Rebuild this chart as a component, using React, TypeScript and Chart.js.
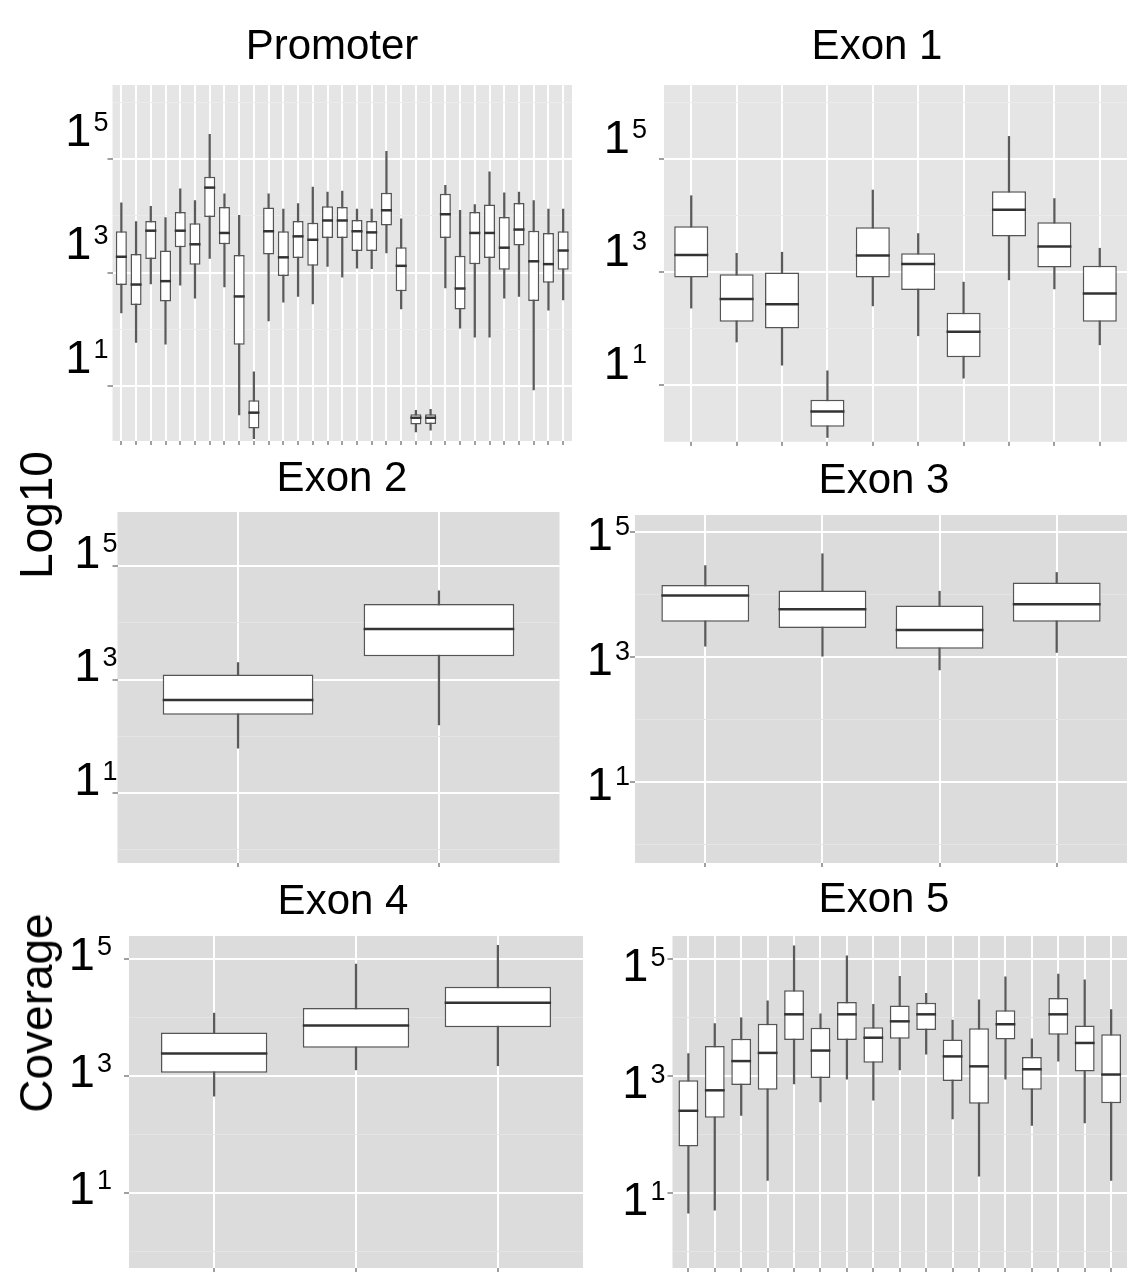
import React, { useEffect, useRef } from "react";
import { Chart, registerables } from "chart.js";

Chart.register(...registerables);

const FONT = "'Liberation Sans', Arial, Helvetica, sans-serif";

// ---- axis ticks ----
const yTickValues = [1, 3, 5];
const yTickBase = "1";
const yTickExponents = ["1", "3", "5"];
const yGridValues = [0, 1, 2, 3, 4, 5, 6];

// ---- Promoter (31 groups) ----
const promoterMin = [2.29, 1.77, 2.80, 1.74, 2.78, 2.55, 3.25, 2.75, 0.49, 0.07, 2.15, 2.48, 2.58, 2.45, 3.11, 2.92, 3.08, 3.07, 3.35, 2.36, 0.19, 0.22, 2.73, 2.02, 1.86, 1.86, 2.55, 2.58, 0.93, 2.34, 2.52];
const promoterQ1 = [2.78, 2.43, 3.24, 2.49, 3.45, 3.14, 3.98, 3.50, 1.73, 0.25, 3.32, 2.94, 3.26, 3.12, 3.61, 3.61, 3.38, 3.38, 3.83, 2.67, 0.32, 0.33, 3.61, 2.35, 3.15, 3.26, 3.05, 3.48, 2.50, 2.82, 3.05];
const promoterMedian = [3.28, 2.79, 3.74, 2.85, 3.74, 3.50, 4.50, 3.70, 2.58, 0.53, 3.73, 3.27, 3.64, 3.58, 3.92, 3.92, 3.73, 3.71, 4.10, 3.12, 0.44, 0.44, 4.03, 2.72, 3.70, 3.70, 3.44, 3.76, 3.20, 3.15, 3.39];
const promoterQ3 = [3.73, 3.33, 3.91, 3.39, 4.07, 3.87, 4.69, 4.16, 3.31, 0.75, 4.15, 3.73, 3.91, 3.88, 4.17, 4.16, 3.93, 3.91, 4.41, 3.45, 0.50, 0.50, 4.39, 3.30, 4.07, 4.20, 3.98, 4.23, 3.74, 3.70, 3.73];
const promoterMax = [4.23, 3.90, 4.17, 3.97, 4.48, 4.27, 5.44, 4.39, 4.01, 1.25, 4.39, 4.12, 4.22, 4.51, 4.42, 4.44, 4.12, 4.12, 5.14, 3.95, 0.57, 0.59, 4.54, 4.10, 4.20, 4.78, 4.41, 4.42, 4.27, 4.12, 4.12];

// ---- Exon 1 (10 groups) ----
const exon1Min = [2.36, 1.76, 1.35, 0.07, 2.40, 1.87, 1.12, 2.86, 2.70, 1.71];
const exon1Q1 = [2.90, 2.12, 2.00, 0.26, 2.90, 2.68, 1.49, 3.63, 3.08, 2.12];
const exon1Median = [3.30, 2.52, 2.43, 0.53, 3.29, 3.14, 1.94, 4.10, 3.45, 2.62];
const exon1Q3 = [3.81, 2.96, 2.99, 0.74, 3.79, 3.33, 2.28, 4.43, 3.88, 3.11];
const exon1Max = [4.35, 3.33, 3.35, 1.25, 4.45, 3.68, 2.82, 5.40, 4.30, 3.42];

// ---- Exon 2 (2 groups) ----
const exon2Min = [1.79, 2.20];
const exon2Q1 = [2.38, 3.41];
const exon2Median = [2.64, 3.89];
const exon2Q3 = [3.09, 4.33];
const exon2Max = [3.30, 4.56];

// ---- Exon 3 (4 groups) ----
const exon3Min = [3.18, 3.02, 2.80, 3.08];
const exon3Q1 = [3.57, 3.47, 3.14, 3.57];
const exon3Median = [3.99, 3.77, 3.44, 3.85];
const exon3Q3 = [4.16, 4.07, 3.83, 4.20];
const exon3Max = [4.47, 4.66, 4.06, 4.36];

// ---- Exon 4 (3 groups) ----
const exon4Min = [2.66, 3.11, 3.18];
const exon4Q1 = [3.06, 3.49, 3.84];
const exon4Median = [3.39, 3.87, 4.26];
const exon4Q3 = [3.75, 4.17, 4.53];
const exon4Max = [4.08, 4.92, 5.24];

// ---- Exon 5 (17 groups) ----
const exon5Min = [0.66, 0.71, 2.33, 1.22, 2.87, 2.56, 2.95, 2.59, 3.11, 3.38, 2.27, 1.29, 2.95, 2.16, 3.26, 2.20, 1.22];
const exon5Q1 = [1.80, 2.29, 2.85, 2.77, 3.62, 2.97, 3.62, 3.23, 3.64, 3.79, 2.92, 2.53, 3.63, 2.77, 3.71, 3.08, 2.54];
const exon5Median = [2.41, 2.76, 3.26, 3.40, 4.06, 3.44, 4.06, 3.66, 3.94, 4.06, 3.34, 3.17, 3.89, 3.12, 4.06, 3.57, 3.03];
const exon5Q3 = [2.93, 3.52, 3.64, 3.90, 4.47, 3.83, 4.27, 3.84, 4.21, 4.26, 3.63, 3.82, 4.13, 3.33, 4.34, 3.87, 3.72];
const exon5Max = [3.39, 3.90, 4.00, 4.29, 5.23, 4.07, 5.06, 4.23, 4.71, 4.42, 3.96, 4.31, 4.70, 3.64, 4.75, 4.65, 4.14];

// ---- panel layout / style (no data here) ----
type Panel = {
  title: string;
  min: number[]; q1: number[]; med: number[]; q3: number[]; max: number[];
  yMin: number; yMax: number;
  plotL: number; plotR: number; plotT: number; plotB: number;
  titleCX: number; titleCY: number; canvasLeft: number;
  labelGap: number; labelDy: number;
  bg: string; minor: string;
};

const PANELS: Panel[] = [
  { title: "Promoter", min: promoterMin, q1: promoterQ1, med: promoterMedian, q3: promoterQ3, max: promoterMax,
    yMin: 0.03, yMax: 6.31, plotL: 112.5, plotR: 572, plotT: 85, plotB: 441, titleCX: 332, titleCY: 47.5, canvasLeft: 40,
    labelGap: 5, labelDy: -30, bg: "#E5E5E5", minor: "#EBEBEB" },
  { title: "Exon 1", min: exon1Min, q1: exon1Q1, med: exon1Median, q3: exon1Q3, max: exon1Max,
    yMin: -0.01, yMax: 6.31, plotL: 664, plotR: 1127, plotT: 85, plotB: 442, titleCX: 877, titleCY: 47, canvasLeft: 590,
    labelGap: 18, labelDy: -23, bg: "#E5E5E5", minor: "#EBEBEB" },
  { title: "Exon 2", min: exon2Min, q1: exon2Q1, med: exon2Median, q3: exon2Q3, max: exon2Max,
    yMin: -0.23, yMax: 5.95, plotL: 117.5, plotR: 559.5, plotT: 512, plotB: 863, titleCX: 342, titleCY: 479, canvasLeft: 40,
    labelGap: 1, labelDy: -15, bg: "#DCDCDC", minor: "#E4E4E4" },
  { title: "Exon 3", min: exon3Min, q1: exon3Q1, med: exon3Median, q3: exon3Q3, max: exon3Max,
    yMin: -0.29, yMax: 5.28, plotL: 635, plotR: 1127, plotT: 515, plotB: 863, titleCX: 884, titleCY: 481, canvasLeft: 570,
    labelGap: 6, labelDy: 1, bg: "#DCDCDC", minor: "#E4E4E4" },
  { title: "Exon 4", min: exon4Min, q1: exon4Q1, med: exon4Median, q3: exon4Q3, max: exon4Max,
    yMin: -0.28, yMax: 5.40, plotL: 129, plotR: 583, plotT: 936, plotB: 1268, titleCX: 343, titleCY: 902, canvasLeft: 40,
    labelGap: 18, labelDy: -6, bg: "#DCDCDC", minor: "#E4E4E4" },
  { title: "Exon 5", min: exon5Min, q1: exon5Q1, med: exon5Median, q3: exon5Q3, max: exon5Max,
    yMin: -0.28, yMax: 5.40, plotL: 672.5, plotR: 1127, plotT: 936, plotB: 1268, titleCX: 884, titleCY: 900, canvasLeft: 600,
    labelGap: 8, labelDy: 5, bg: "#DCDCDC", minor: "#E4E4E4" },
];

const TITLE_SIZE = 42;
const TITLE_LINE = TITLE_SIZE * 1.2;
const X_AXIS_H = 8;
const BASE_SIZE = 47;
const SUP_SIZE = 27;

function geometry(p: Panel) {
  const L0 = p.canvasLeft;
  const R0 = 2 * p.titleCX - L0;
  const yW = p.plotL - L0;
  const rW = R0 - p.plotR;
  const canvasTop = Math.floor(p.titleCY - TITLE_LINE / 2 - 4);
  const padTop = p.titleCY - TITLE_LINE / 2 - canvasTop;
  const padBottom = p.plotT - p.titleCY - TITLE_LINE / 2;
  const height = Math.round(p.plotB + X_AXIS_H - canvasTop);
  return { L0, R0, width: R0 - L0, yW, rW, canvasTop, padTop, padBottom, height };
}

function BoxPanel({ p }: { p: Panel }) {
  const ref = useRef<HTMLCanvasElement>(null);
  const g = geometry(p);

  useEffect(() => {
    const canvas = ref.current;
    if (!canvas) return;
    const idx = p.med.map((_, i) => i);
    const n = idx.length;
    const isMajor = (v: number) => yTickValues.includes(v);

    const bgPlugin = {
      id: "panelBg",
      beforeDraw(chart: any) {
        const { ctx, chartArea: a } = chart;
        ctx.save();
        ctx.fillStyle = p.bg;
        ctx.fillRect(a.left, a.top, a.right - a.left, a.bottom - a.top);
        ctx.restore();
      },
    };

    const medianPlugin = {
      id: "medians",
      afterDatasetsDraw(chart: any) {
        const { ctx } = chart;
        const meta = chart.getDatasetMeta(1);
        const ys = chart.scales.y;
        ctx.save();
        ctx.strokeStyle = "#333333";
        ctx.lineWidth = 2.5;
        meta.data.forEach((bar: any, i: number) => {
          const y = ys.getPixelForValue(p.med[i]);
          const hw = bar.width / 2;
          ctx.beginPath();
          ctx.moveTo(bar.x - hw, y);
          ctx.lineTo(bar.x + hw, y);
          ctx.stroke();
        });
        ctx.restore();
      },
    };

    const yLabelPlugin = {
      id: "yLabels",
      afterDraw(chart: any) {
        const { ctx, chartArea } = chart;
        const ys = chart.scales.y;
        const right = chartArea.left - p.labelGap;
        ctx.save();
        ctx.fillStyle = "#000000";
        ctx.textBaseline = "alphabetic";
        ctx.textAlign = "left";
        yTickValues.forEach((v, i) => {
          const yc = ys.getPixelForValue(v) + p.labelDy;
          const capB = BASE_SIZE * 0.716;
          const baseY = yc + capB / 2;
          const topY = yc - capB / 2 - 1;
          ctx.font = `${SUP_SIZE}px ${FONT}`;
          const supW = ctx.measureText(yTickExponents[i]).width;
          ctx.font = `${BASE_SIZE}px ${FONT}`;
          const baseW = ctx.measureText(yTickBase).width;
          const supX = right - supW + 1;
          const x1 = supX - baseW - 2;
          ctx.fillText(yTickBase, x1, baseY);
          ctx.font = `${SUP_SIZE}px ${FONT}`;
          ctx.fillText(yTickExponents[i], supX, topY + SUP_SIZE * 0.716);
        });
        ctx.restore();
      },
    };

    const chart = new Chart(canvas, {
      type: "bar",
      data: {
        datasets: [
          {
            label: "whisker",
            data: idx.map((i) => ({ x: i, y: [p.min[i], p.max[i]] })) as any,
            backgroundColor: "#5A5A5A",
            borderWidth: 0,
            barThickness: 1.6,
            grouped: false,
            order: 2,
          } as any,
          {
            label: "box",
            data: idx.map((i) => ({ x: i, y: [p.q1[i], p.q3[i]] })) as any,
            backgroundColor: "#FFFFFF",
            borderColor: "#555555",
            borderWidth: 1.5,
            borderSkipped: false,
            barPercentage: 0.75,
            categoryPercentage: 1,
            grouped: false,
            order: 1,
          } as any,
        ],
      },
      options: {
        animation: false,
        responsive: false,
        devicePixelRatio: 1,
        layout: { padding: 0 },
        plugins: {
          legend: { display: false },
          tooltip: { enabled: false },
          title: {
            display: true,
            text: p.title,
            color: "#000000",
            font: { family: FONT, size: TITLE_SIZE, weight: "normal" as any, lineHeight: 1.2 },
            padding: { top: g.padTop, bottom: g.padBottom },
          },
        },
        scales: {
          x: {
            type: "linear",
            min: -0.6,
            max: n - 0.4,
            offset: false,
            border: { display: false },
            grid: { offset: false, color: "#FFFFFF", lineWidth: 2, drawTicks: true, tickLength: 4, tickColor: "#A0A0A0" },
            ticks: { display: false },
            afterBuildTicks: (s: any) => { s.ticks = idx.map((v) => ({ value: v })); },
            afterFit: (s: any) => { s.height = X_AXIS_H; },
          } as any,
          y: {
            type: "linear",
            min: p.yMin,
            max: p.yMax,
            border: { display: false },
            grid: {
              color: (c: any) => (c.tick && isMajor(c.tick.value) ? "#FFFFFF" : p.minor),
              lineWidth: (c: any) => (c.tick && isMajor(c.tick.value) ? 2 : 1),
              drawTicks: true,
              tickLength: 5,
              tickColor: (c: any) => (c.tick && isMajor(c.tick.value) ? "#A0A0A0" : "rgba(0,0,0,0)"),
            },
            ticks: { display: false },
            afterBuildTicks: (s: any) => {
              s.ticks = yGridValues.filter((v) => v >= p.yMin && v <= p.yMax).map((v) => ({ value: v }));
            },
            afterFit: (s: any) => { s.width = g.yW; },
          } as any,
          yR: {
            type: "linear",
            position: "right",
            display: true,
            border: { display: false },
            grid: { display: false },
            ticks: { display: false },
            afterFit: (s: any) => { s.width = g.rW; },
          } as any,
        },
      },
      plugins: [bgPlugin, medianPlugin, yLabelPlugin],
    });
    return () => chart.destroy();
  }, []);

  return (
    <canvas
      ref={ref}
      width={g.width}
      height={g.height}
      style={{ position: "absolute", left: g.L0, top: g.canvasTop, width: g.width, height: g.height }}
    />
  );
}

const axisTitleStyle: React.CSSProperties = {
  position: "absolute",
  transform: "translate(-50%, -50%) rotate(-90deg)",
  whiteSpace: "nowrap",
  fontFamily: FONT,
  fontSize: 46,
  lineHeight: "46px",
  color: "#000",
};

export default function App() {
  return (
    <div style={{ position: "absolute", left: 0, top: 0, width: 1134, height: 1279, overflow: "hidden", background: "#FFFFFF" }}>
      {PANELS.map((p) => (
        <BoxPanel key={p.title} p={p} />
      ))}
      <div style={{ ...axisTitleStyle, left: 36, top: 515 }}>Log10</div>
      <div style={{ ...axisTitleStyle, left: 36, top: 1013 }}>Coverage</div>
    </div>
  );
}
